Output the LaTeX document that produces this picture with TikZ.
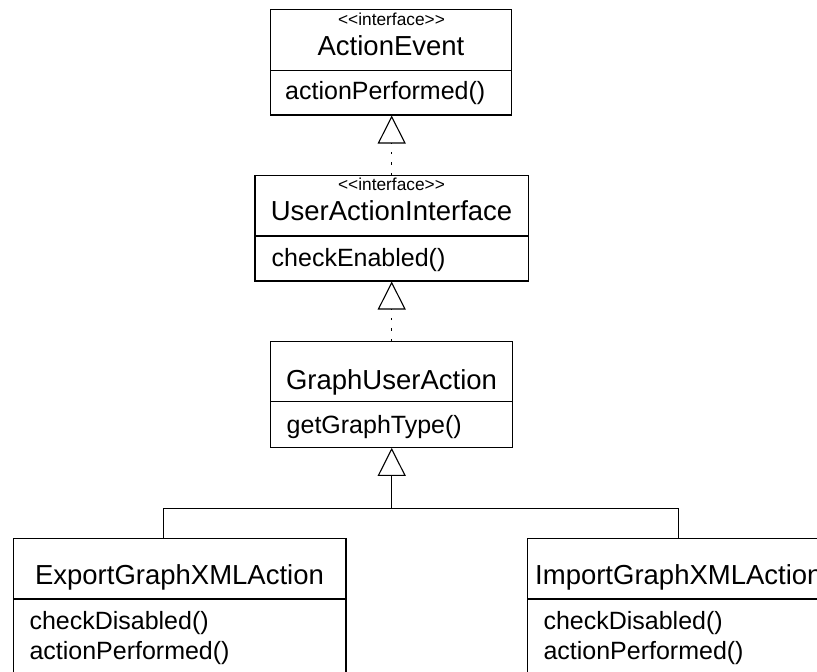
\documentclass[tikz,border=0pt]{standalone}
\usepackage{fontspec}
\setmainfont{Liberation Sans}[Ligatures=TeXOff]
\usetikzlibrary{arrows.meta}
\tikzset{
  classbox/.style={draw, line width=1.1pt, inner sep=0pt, fill=white},
  divider/.style={line width=1.1pt},
  nametext/.style={inner sep=0pt, anchor=base, font=\fontsize{27.5}{30}\selectfont},
  stereotext/.style={inner sep=0pt, anchor=base, font=\fontsize{17.3}{19}\selectfont},
  methodtext/.style={inner sep=0pt, anchor=base west, font=\fontsize{25}{28}\selectfont},
  realizes/.style={line width=1.1pt, dash pattern=on 2.5pt off 8pt,
    -{Triangle[open, length=28pt, width=28pt, line width=1.1pt]}},
  extends/.style={line width=1.1pt,
    -{Triangle[open, length=28pt, width=28pt, line width=1.1pt]}},
  tree/.style={line width=1.1pt}
}
\begin{document}
\begin{tikzpicture}[x=1pt,y=-1pt]
  \fill[white] (0,0) rectangle (817,672);
  \useasboundingbox (0,0) rectangle (817,672);
  \clip (0,0) rectangle (817,672);

  % ActionEvent
  \node[classbox, minimum width=241pt, minimum height=105.7pt] (ae) at (391.2,62.15) {};
  \draw[divider] (ae.west |- 0,70.3) -- (ae.east |- 0,70.3);
  \node[stereotext] (aest) at (391.5,25) {<<interface>>};
  \node[nametext] (aename) at (391,55) {ActionEvent};
  \node[methodtext] (aem1) at (285,99.5) {actionPerformed()};

  % UserActionInterface
  \node[classbox, minimum width=273.3pt, minimum height=105.3pt] (uai) at (391.65,228.35) {};
  \draw[divider] (uai.west |- 0,236) -- (uai.east |- 0,236);
  \node[stereotext] (uaist) at (391.5,190) {<<interface>>};
  \node[nametext] (uainame) at (391.5,220) {UserActionInterface};
  \node[methodtext] (uaim1) at (271.5,266) {checkEnabled()};

  % GraphUserAction
  \node[classbox, minimum width=241.6pt, minimum height=105.6pt] (gua) at (391.5,394.5) {};
  \draw[divider] (gua.west |- 0,401.7) -- (gua.east |- 0,401.7);
  \node[nametext] (guaname) at (391.5,389) {GraphUserAction};
  \node[methodtext] (guam1) at (286.5,433.3) {getGraphType()};

  % ExportGraphXMLAction
  \node[classbox, minimum width=332.7pt, minimum height=161.7pt] (exp) at (179.65,619.15) {};
  \draw[divider] (exp.west |- 0,599) -- (exp.east |- 0,599);
  \node[nametext] (expname) at (179.5,584) {ExportGraphXMLAction};
  \node[methodtext] (expm1) at (29.3,629) {checkDisabled()};
  \node[methodtext] (expm2) at (29.3,659.3) {actionPerformed()};

  % ImportGraphXMLAction
  \node[classbox, minimum width=332.7pt, minimum height=161.7pt] (imp) at (694.05,619.15) {};
  \draw[divider] (imp.west |- 0,599) -- (imp.east |- 0,599);
  \node[nametext, anchor=base west] (impname) at (535,584) {ImportGraphXMLAction};
  \node[methodtext] (impm1) at (543.3,629) {checkDisabled()};
  \node[methodtext] (impm2) at (543.3,659.3) {actionPerformed()};

  % realization links
  \draw[realizes] (uai.north -| 391.7,0) -- (ae.south -| 391.7,0);
  \draw[realizes] (gua.north -| 391.7,0) -- (uai.south -| 391.7,0);

  % generalization tree
  \coordinate (junc) at (391.7,508.3);
  \draw[extends] (junc) -- (gua.south -| junc);
  \draw[tree] ([xshift=151pt]exp.north west) |- (junc) -| ([xshift=151pt]imp.north west);
\end{tikzpicture}
\end{document}
